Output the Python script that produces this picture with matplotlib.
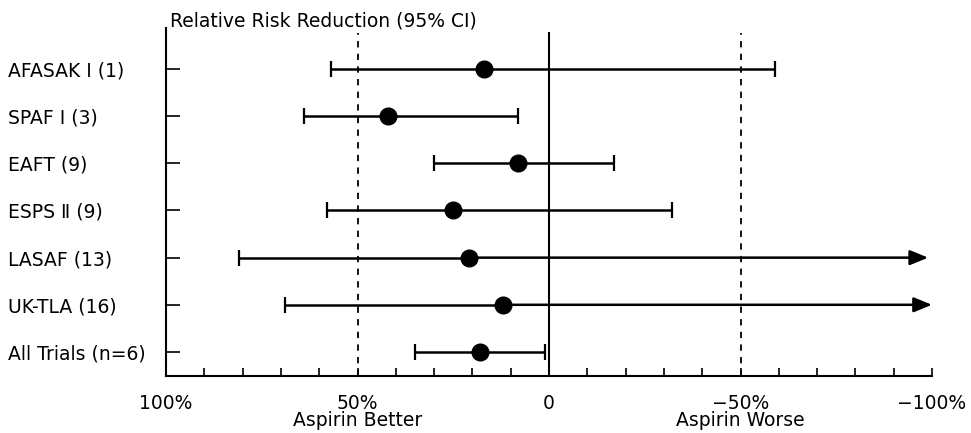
import matplotlib.pyplot as plt
import numpy as np

plt.rcParams['font.family'] = ['DejaVu Sans']

# trials, top to bottom
trials = ['AFASAK Ⅰ (1)', 'SPAF Ⅰ (3)', 'EAFT (9)', 'ESPS Ⅱ (9)',
          'LASAF (13)', 'UK-TLA (16)', 'All Trials (n=6)']
rrr = [17, 42, 8, 25, 21, 12, 18]          # relative risk reduction, %
ci_low = [57, 64, 30, 58, 81, 69, 35]      # left end (aspirin better)
ci_high = [-59, 8, -17, -32, -99, -100, 1]  # right end
open_ended = [False, False, False, False, True, True, False]

xticks = [100, 50, 0, -50, -100]
xticklabels = ['100%', '50%\nAspirin Better', '0', '\u221250%\nAspirin Worse', '\u2212100%']

fig = plt.figure(figsize=(9.71, 4.33), dpi=100)
ax = fig.add_axes([166/971, 1 - 376/433, 766/971, 348/433])

n = len(trials)
ypos = np.arange(n)[::-1]

# reference lines: no effect (solid) and +/-50% (dashed)
ax.axvline(0, ymin=0, ymax=(376-33)/348, color='black', lw=1.5, zorder=1)
for xv in (50, -50):
    ax.axvline(xv, ymin=0, ymax=(376-33)/348, color='black', lw=1.3,
               linestyle=(0, (3.5, 3.5)), zorder=1)

for i in range(n):
    y = ypos[i]
    left = ci_low[i] - rrr[i]
    if open_ended[i]:
        ax.errorbar(rrr[i], y, xerr=[[0], [left]], fmt='o',
                    color='black', ms=12, lw=1.8, capsize=6, capthick=1.6, zorder=3)
        ax.annotate('', xy=(ci_high[i], y), xytext=(rrr[i], y),
                    arrowprops=dict(arrowstyle='-|>,head_length=1.1,head_width=0.45',
                                    color='black', lw=1.8, shrinkA=0, shrinkB=0,
                                    mutation_scale=10), zorder=2)
    else:
        ax.errorbar(rrr[i], y, xerr=[[rrr[i] - ci_high[i]], [left]],
                    fmt='o', color='black', ms=12, lw=1.8, capsize=6,
                    capthick=1.6, zorder=3)

ax.set_xlim(100, -100)
ax.set_ylim(-0.51, 6.87)

ax.set_xticks(xticks)
ax.set_xticklabels(xticklabels, fontsize=13.5, linespacing=0.88)
ax.set_xticks(np.arange(-100, 101, 10), minor=True)
ax.tick_params(axis='x', which='both', direction='in', length=6, width=1.2, pad=13)

ax.set_yticks(ypos)
ax.set_yticklabels(trials, fontsize=13.5)
ax.tick_params(axis='y', direction='in', length=10, width=1.2, pad=114)
for lbl in ax.get_yticklabels():
    lbl.set_horizontalalignment('left')

for s in ('top', 'right'):
    ax.spines[s].set_visible(False)
ax.spines['left'].set_linewidth(1.5)
ax.spines['bottom'].set_linewidth(1.5)

fig.text(170/971, 1 - 21/433, 'Relative Risk Reduction (95% CI)', fontsize=13.5,
         va='center', ha='left')

fig.savefig('out.png', dpi=100)
